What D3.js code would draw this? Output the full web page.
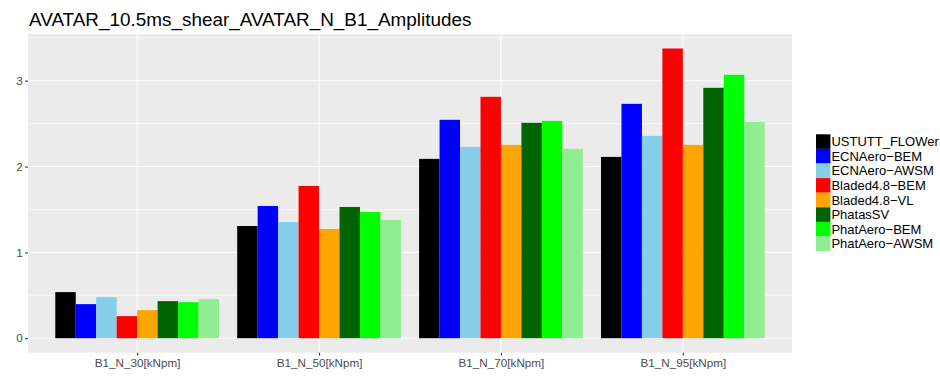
<!DOCTYPE html>
<html>
<head>
<meta charset="utf-8">
<script src="https://cdn.jsdelivr.net/npm/d3@7"></script>
<style>
  body { margin: 0; background: #fff; }
  text { font-family: "Liberation Sans", Arial, Helvetica, sans-serif; }
</style>
</head>
<body>
<svg id="chart" width="940" height="376"></svg>
<script>
// Load cases on the x axis
const categories = ["B1_N_30[kNpm]", "B1_N_50[kNpm]", "B1_N_70[kNpm]", "B1_N_95[kNpm]"];
// Codes compared within each load case
const seriesNames = ["USTUTT_FLOWer", "ECNAero−BEM", "ECNAero−AWSM", "Bladed4.8−BEM",
                     "Bladed4.8−VL", "PhatasSV", "PhatAero−BEM", "PhatAero−AWSM"];
const seriesColors = ["#000000", "#0000FF", "#87CEEB", "#FF0000",
                      "#FFA500", "#006400", "#00FF00", "#90EE90"];
// Amplitude per code, one value per load case
const USTUTT_FLOWer = [0.537, 1.307, 2.089, 2.112];
const ECNAero_BEM   = [0.397, 1.540, 2.544, 2.730];
const ECNAero_AWSM  = [0.478, 1.354, 2.229, 2.357];
const Bladed_BEM    = [0.257, 1.774, 2.812, 3.375];
const Bladed_VL     = [0.327, 1.272, 2.252, 2.252];
const PhatasSV      = [0.432, 1.529, 2.509, 2.917];
const PhatAero_BEM  = [0.420, 1.470, 2.532, 3.069];
const PhatAero_AWSM = [0.455, 1.377, 2.205, 2.520];
const yTicks = [0, 1, 2, 3];
const yMinor = [0.5, 1.5, 2.5, 3.5];
const titleText = "AVATAR_10.5ms_shear_AVATAR_N_B1_Amplitudes";

const seriesValues = [USTUTT_FLOWer, ECNAero_BEM, ECNAero_AWSM, Bladed_BEM,
                      Bladed_VL, PhatasSV, PhatAero_BEM, PhatAero_AWSM];

const svg = d3.select("#chart");
const panel = { left: 28, right: 792, top: 34, bottom: 352.7 };

// y: linear with 5% expansion on both sides of [0, max]
const yMax = d3.max(seriesValues.flat());
const pad = 0.05 * yMax;
const y = d3.scaleLinear().domain([-pad, yMax + pad]).range([panel.bottom, panel.top]);

// x: discrete positions with 0.6 unit expansion
const unit = (panel.right - panel.left) / (categories.length - 1 + 1.2);
const x = d3.scalePoint().domain(categories)
  .range([panel.left + 0.6 * unit, panel.right - 0.6 * unit]);
const xInner = d3.scaleBand().domain(seriesNames).range([0, 0.9 * unit]).padding(0);

// panel background
svg.append("rect")
  .attr("x", panel.left).attr("y", panel.top)
  .attr("width", panel.right - panel.left).attr("height", panel.bottom - panel.top)
  .attr("fill", "#EBEBEB");

const grid = svg.append("g");
grid.selectAll("line.minor").data(yMinor.filter(v => y(v) >= panel.top)).enter().append("line")
  .attr("x1", panel.left).attr("x2", panel.right)
  .attr("y1", d => y(d)).attr("y2", d => y(d))
  .attr("stroke", "#fff").attr("stroke-width", 0.55);
grid.selectAll("line.major").data(yTicks).enter().append("line")
  .attr("x1", panel.left).attr("x2", panel.right)
  .attr("y1", d => y(d)).attr("y2", d => y(d))
  .attr("stroke", "#fff").attr("stroke-width", 1.1);
grid.selectAll("line.vmajor").data(categories).enter().append("line")
  .attr("x1", d => x(d)).attr("x2", d => x(d))
  .attr("y1", panel.top).attr("y2", panel.bottom)
  .attr("stroke", "#fff").attr("stroke-width", 1.1);

// bars
const rows = [];
categories.forEach((c, ci) => {
  seriesNames.forEach((s, si) => {
    rows.push({ cat: c, series: s, value: seriesValues[si][ci], color: seriesColors[si] });
  });
});
svg.append("g").selectAll("rect").data(rows).enter().append("rect")
  .attr("x", d => x(d.cat) - 0.45 * unit + xInner(d.series))
  .attr("width", xInner.bandwidth())
  .attr("y", d => y(Math.max(0, d.value)))
  .attr("height", d => Math.abs(y(d.value) - y(0)))
  .attr("fill", d => d.color);

// axes
const yAxis = d3.axisLeft(y).tickValues(yTicks).tickSize(2.75).tickPadding(2.5).tickFormat(d3.format("d"));
const gy = svg.append("g").attr("transform", `translate(${panel.left},0)`).call(yAxis);
gy.select(".domain").remove();
gy.selectAll(".tick line").attr("stroke", "#333333").attr("stroke-width", 1.1);
gy.selectAll(".tick text").attr("fill", "#4D4D4D").style("font-size", "11.7px");

const xAxis = d3.axisBottom(x).tickSize(2.75).tickPadding(3);
const gx = svg.append("g").attr("transform", `translate(0,${panel.bottom})`).call(xAxis);
gx.select(".domain").remove();
gx.selectAll(".tick line").attr("stroke", "#333333").attr("stroke-width", 1.1);
gx.selectAll(".tick text").attr("fill", "#4D4D4D").style("font-size", "11.7px");

// title
svg.append("text").attr("x", 29).attr("y", 26)
  .style("font-size", "18.9px").attr("fill", "#000").text(titleText);

// legend
const keyH = 14.6, keyW = 14.4;
const legend = svg.append("g").attr("transform", "translate(816,134.3)");
const items = legend.selectAll("g").data(seriesNames).enter().append("g")
  .attr("transform", (d, i) => `translate(0,${i * keyH})`);
items.append("rect").attr("width", keyW).attr("height", keyH)
  .attr("fill", (d, i) => seriesColors[i]);
items.append("text").attr("x", keyW + 1).attr("y", keyH / 2)
  .attr("dy", "0.35em").style("font-size", "13px").attr("fill", "#000").text(d => d);
</script>
</body>
</html>
